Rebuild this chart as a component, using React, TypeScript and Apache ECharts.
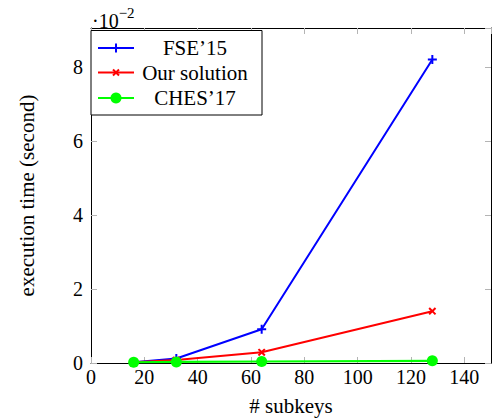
import React, { useEffect, useRef } from "react";
import * as echarts from "echarts";

const subkeys = [16, 32, 64, 128];
const fse15 = [0.02, 0.12, 0.91, 8.2];
const ourSolution = [0.02, 0.08, 0.29, 1.4];
const ches17 = [0.02, 0.03, 0.04, 0.06];
const seriesNames = ["FSE’15", "Our solution", "CHES’17"];
const seriesColors = ["#0000ff", "#ff0000", "#00ff00"];
const xName = "# subkeys";
const yName = "execution time (second)";
const scaleLabel = "·10";
const scaleExp = "−2";

const FONT = "'Liberation Serif', 'DejaVu Serif', serif";
const PLUS = "path://M3.5,0 H5.5 V3.5 H9 V5.5 H5.5 V9 H3.5 V5.5 H0 V3.5 H3.5 Z";

export default function App() {
  const ref = useRef<HTMLDivElement>(null);
  useEffect(() => {
    if (!ref.current) return;
    const chart = echarts.init(ref.current, null, { renderer: "svg" });
    const pairs = (ys: number[]) => subkeys.map((x, i) => [x, ys[i]]);
    const tickStyle = { inside: true, length: 6, lineStyle: { color: "#b4b4b4", width: 1 } };
    const lineStyle = { onZero: false, lineStyle: { color: "#000", width: 1 } };
    const labelStyle = { fontFamily: FONT, fontSize: 20, color: "#000" };

    const lx0 = 98, lx1 = 134, lmid = 116, tx = 195;
    const rows = [48, 72.5, 98];
    const legend: any[] = [
      {
        type: "rect",
        shape: { x: 91, y: 30.5, width: 171, height: 84.5 },
        style: { fill: "#fff", stroke: "#000", lineWidth: 1 },
        z: 100,
      },
    ];
    rows.forEach((y, i) => {
      legend.push({
        type: "line",
        shape: { x1: lx0, y1: y, x2: lx1, y2: y },
        style: { stroke: seriesColors[i], lineWidth: 2 },
        z: 101,
      });
      legend.push({
        type: "text",
        x: tx,
        y: y,
        style: {
          text: seriesNames[i],
          fontFamily: FONT,
          fontSize: 21,
          fill: "#000",
          align: "center",
          verticalAlign: "middle",
        },
        z: 101,
      });
    });
    legend.push(
      { type: "line", shape: { x1: lmid - 4.5, y1: rows[0], x2: lmid + 4.5, y2: rows[0] }, style: { stroke: seriesColors[0], lineWidth: 2 }, z: 102 },
      { type: "line", shape: { x1: lmid, y1: rows[0] - 4.5, x2: lmid, y2: rows[0] + 4.5 }, style: { stroke: seriesColors[0], lineWidth: 2 }, z: 102 },
      { type: "line", shape: { x1: lmid - 3, y1: rows[1] - 3, x2: lmid + 3, y2: rows[1] + 3 }, style: { stroke: seriesColors[1], lineWidth: 2 }, z: 102 },
      { type: "line", shape: { x1: lmid - 3, y1: rows[1] + 3, x2: lmid + 3, y2: rows[1] - 3 }, style: { stroke: seriesColors[1], lineWidth: 2 }, z: 102 },
      { type: "circle", shape: { cx: lmid, cy: rows[2], r: 5.5 }, style: { fill: seriesColors[2] }, z: 102 }
    );
    legend.push({
      type: "text",
      x: 92,
      y: 18,
      style: {
        text: `{a|${scaleLabel}}{b|${scaleExp}}`,
        rich: {
          a: { fontFamily: FONT, fontSize: 20, fill: "#000", verticalAlign: "bottom" },
          b: { fontFamily: FONT, fontSize: 15, fill: "#000", padding: [0, 0, 10, 0] },
        },
        verticalAlign: "middle",
      },
    });

    chart.setOption({
      animation: false,
      backgroundColor: "#fff",
      grid: { left: 91, right: 1, top: 28, bottom: 56, containLabel: false, outerBoundsMode: "none" },
      xAxis: [
        {
          type: "value",
          position: "bottom",
          min: 0,
          max: 150,
          interval: 20,
          axisLine: lineStyle,
          axisTick: tickStyle,
          axisLabel: { ...labelStyle, margin: 4, showMaxLabel: false },
          splitLine: { show: false },
          name: xName,
          nameLocation: "middle",
          nameGap: 32,
          nameTextStyle: { fontFamily: FONT, fontSize: 21, color: "#000" },
        },
        {
          type: "value",
          position: "top",
          min: 0,
          max: 150,
          interval: 20,
          axisLine: lineStyle,
          axisTick: tickStyle,
          axisLabel: { show: false },
          splitLine: { show: false },
        },
      ],
      yAxis: [
        {
          type: "value",
          position: "left",
          min: 0,
          max: 9.05,
          interval: 2,
          axisLine: lineStyle,
          axisTick: tickStyle,
          axisLabel: { ...labelStyle, margin: 8, showMaxLabel: false },
          splitLine: { show: false },
          name: yName,
          nameLocation: "middle",
          nameGap: 54,
          nameTextStyle: { fontFamily: FONT, fontSize: 21, color: "#000" },
        },
        {
          type: "value",
          position: "right",
          min: 0,
          max: 9.05,
          interval: 2,
          axisLine: lineStyle,
          axisTick: tickStyle,
          axisLabel: { show: false },
          splitLine: { show: false },
        },
      ],
      series: [
        {
          name: seriesNames[0],
          type: "line",
          data: pairs(fse15),
          lineStyle: { color: seriesColors[0], width: 2 },
          itemStyle: { color: seriesColors[0], borderWidth: 0 },
          symbol: PLUS,
          symbolSize: 9,
          showAllSymbol: true,
        },
        {
          name: seriesNames[1],
          type: "line",
          data: pairs(ourSolution),
          lineStyle: { color: seriesColors[1], width: 2 },
          itemStyle: { color: seriesColors[1], borderWidth: 0 },
          symbol: PLUS,
          symbolRotate: 45,
          symbolSize: 9,
          showAllSymbol: true,
        },
        {
          name: seriesNames[2],
          type: "line",
          data: pairs(ches17),
          lineStyle: { color: seriesColors[2], width: 2.2 },
          itemStyle: { color: seriesColors[2], borderWidth: 0 },
          symbol: "circle",
          symbolSize: 11,
          showAllSymbol: true,
        },
      ],
      graphic: legend,
    });
    return () => chart.dispose();
  }, []);
  return (
    <div
      ref={ref}
      style={{ position: "fixed", left: 0, top: 0, width: 492, height: 419, background: "#fff" }}
    />
  );
}
